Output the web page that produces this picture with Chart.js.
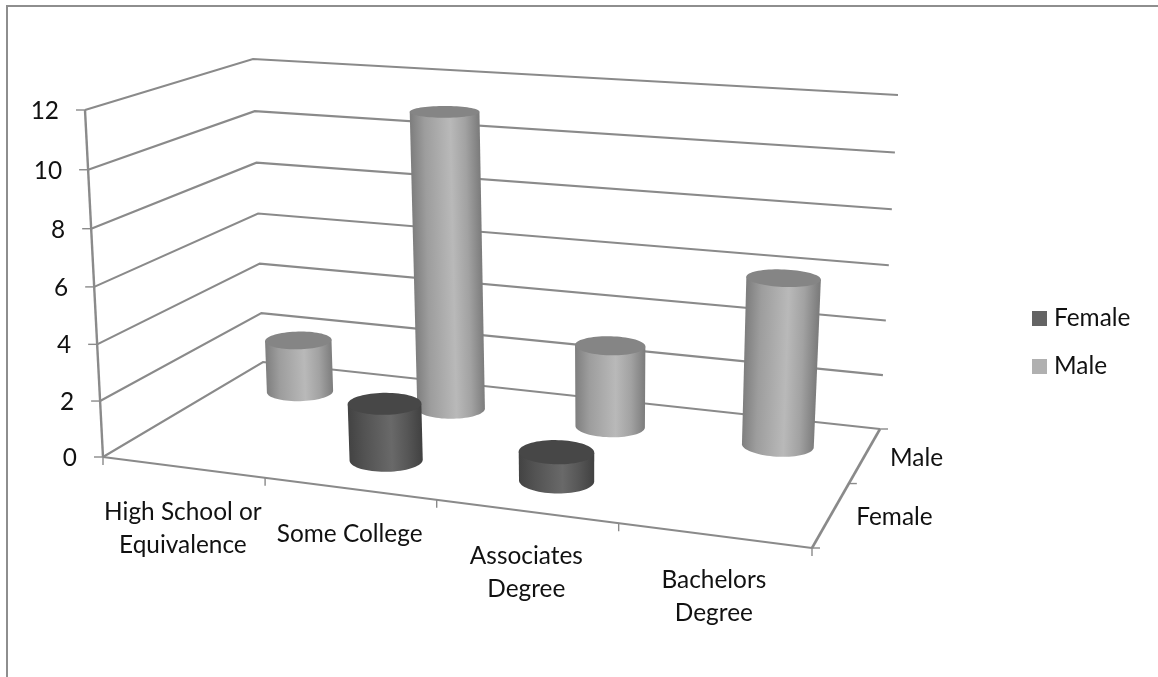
<!DOCTYPE html>
<html>
<head>
<meta charset="utf-8">
<title>Education by gender</title>
<script src="https://cdn.jsdelivr.net/npm/chart.js@4"></script>
<style>
  html, body { margin: 0; padding: 0; background: #fff; }
  canvas { display: block; }
</style>
</head>
<body>
<canvas id="cylinders" width="1158" height="677"></canvas>
<script>
// Chart data
const categories = [['High School or', 'Equivalence'], ['Some College'], ['Associates', 'Degree'], ['Bachelors', 'Degree']];
const seriesNames = ['Female', 'Male'];
const femaleValues = [0, 2, 1, 0];
const maleValues = [2, 11, 3, 6];
const valueTicks = [0, 2, 4, 6, 8, 10, 12];

// Corners of the box in screen units: front-left, front-right, back-right, back-left
const floorCorners = [[103, 457], [812, 548], [880, 429], [263, 362]];
const topCorners = [[85, 110], [835, 163], [898, 95], [253, 59]];
const maxValue = 12;
const heightBend = 0.04;

// Unit square to quad mapping
function quadMap(q) {
  const [[x0, y0], [x1, y1], [x2, y2], [x3, y3]] = q;
  const dx1 = x1 - x2, dx2 = x3 - x2, sx = x0 - x1 + x2 - x3;
  const dy1 = y1 - y2, dy2 = y3 - y2, sy = y0 - y1 + y2 - y3;
  const det = dx1 * dy2 - dx2 * dy1;
  const g = (sx * dy2 - dx2 * sy) / det;
  const h = (dx1 * sy - sx * dy1) / det;
  return (u, v) => {
    const w = g * u + h * v + 1;
    return {
      x: ((x1 - x0 + g * x1) * u + (x3 - x0 + h * x3) * v + x0) / w,
      y: ((y1 - y0 + g * y1) * u + (y3 - y0 + h * y3) * v + y0) / w
    };
  };
}
const floorMap = quadMap(floorCorners);
const topMap = quadMap(topCorners);

// u = position along categories (0-1), v = depth (0-1), val = axis value
function project(u, v, val) {
  const a = floorMap(u, v), b = topMap(u, v);
  const s = val / maxValue, t = s / (1 + heightBend * (1 - s));
  return { x: a.x + (b.x - a.x) * t, y: a.y + (b.y - a.y) * t };
}

const lineStyle = { showLine: true, pointRadius: 0, borderColor: '#8a8a8a', borderWidth: 2.1, tension: 0 };
const wallLines = valueTicks.map(val => ({
  ...lineStyle,
  data: [project(0, 0, val), project(0, 1, val), project(1, 1, val)]
}));
const axisLines = [
  { ...lineStyle, borderWidth: 2.4, data: [project(0, 0, 12), project(0, 0, 0)] },
  { ...lineStyle, data: [project(0, 0, 0), project(1, 0, 0)] },
  { ...lineStyle, borderWidth: 2.6, data: [project(1, 0, 0), project(1, 1, 0)] }
];
// tick marks for the three axes
const tickLines = [
  ...valueTicks.map(val => { const p = project(0, 0, val); return { ...lineStyle, borderWidth: 1.4, data: [{ x: p.x - 9, y: p.y }, p] }; }),
  ...[0, 1, 2, 3, 4].map(i => { const p = project(i / 4, 0, 0); return { ...lineStyle, borderWidth: 1.4, data: [p, { x: p.x, y: p.y + 8 }] }; }),
  ...[0, 1, 2].map(i => { const p = project(1, i / 2, 0); return { ...lineStyle, borderWidth: 1.4, data: [p, { x: p.x + 8, y: p.y }] }; })
];

const shades = {
  Female: { swatch: '#646464', cap: '#474747', stops: ['#434343', '#525252', '#696969', '#565656', '#414141'] },
  Male: { swatch: '#b0b0b0', cap: '#858585', stops: ['#7f7f7f', '#9d9d9d', '#b9b9b9', '#a2a2a2', '#7d7d7d'] }
};
const seriesData = { Female: femaleValues, Male: maleValues };
const depthOf = { Female: 0.25, Male: 0.75 };

function toPixels(chart, p) {
  return { x: chart.scales.x.getPixelForValue(p.x), y: chart.scales.y.getPixelForValue(p.y) };
}

// Outline of a cylinder section at a given value, as screen points
function ring(chart, u, v, val) {
  const pts = [];
  for (let i = 0; i < 72; i++) {
    const a = i / 72 * Math.PI * 2;
    pts.push(toPixels(chart, project(u + 0.051 * Math.cos(a), v + 0.1 * Math.sin(a), val)));
  }
  return pts;
}

function drawCylinder(chart, ctx, catIndex, name, val) {
  const u = (catIndex + 0.5) / 4, v = depthOf[name], shade = shades[name];
  const top = ring(chart, u, v, val), base = ring(chart, u, v, 0);
  const extreme = (pts, sign) => pts.reduce((best, p, i) => (p.x * sign > pts[best].x * sign ? i : best), 0);
  const bl = extreme(base, -1), br = extreme(base, 1), tl = extreme(top, -1), tr = extreme(top, 1);

  ctx.beginPath();
  ctx.moveTo(top[tl].x, top[tl].y);
  ctx.lineTo(base[bl].x, base[bl].y);
  // front half of the base: walk from left extreme to right extreme through the low side
  const n = base.length;
  const forward = [];
  for (let i = bl; i !== br; i = (i + 1) % n) forward.push(base[i]);
  const backward = [];
  for (let i = bl; i !== br; i = (i - 1 + n) % n) backward.push(base[i]);
  const lower = (arr) => arr.reduce((s, p) => s + p.y, 0) / arr.length;
  (lower(forward) > lower(backward) ? forward : backward).forEach(p => ctx.lineTo(p.x, p.y));
  ctx.lineTo(base[br].x, base[br].y);
  ctx.lineTo(top[tr].x, top[tr].y);
  ctx.closePath();

  // gradient runs across the cylinder, square to its lean
  const cb = toPixels(chart, project(u, v, 0)), ct = toPixels(chart, project(u, v, val));
  const ax = ct.x - cb.x, ay = ct.y - cb.y, len = Math.hypot(ax, ay);
  const nx = -ay / len, ny = ax / len;
  const r = (base[br].x - base[bl].x) / 2;
  const sign = nx > 0 ? 1 : -1;
  const grad = ctx.createLinearGradient(cb.x - sign * nx * r, cb.y - sign * ny * r, cb.x + sign * nx * r, cb.y + sign * ny * r);
  [0, 0.2, 0.58, 0.8, 1].forEach((s, i) => grad.addColorStop(s, shade.stops[i]));
  ctx.fillStyle = grad;
  ctx.fill();

  ctx.beginPath();
  top.forEach((p, i) => (i ? ctx.lineTo(p.x, p.y) : ctx.moveTo(p.x, p.y)));
  ctx.closePath();
  ctx.fillStyle = shade.cap;
  ctx.fill();
}

const FONT = '24.4px Lato, Carlito, sans-serif';

const cylinderPlugin = {
  id: 'cylinders',
  afterDatasetsDraw(chart) {
    const ctx = chart.ctx;
    ctx.save();

    // frame along the top and left
    ctx.strokeStyle = '#8e8e8e';
    ctx.lineWidth = 2;
    ctx.beginPath();
    ctx.moveTo(7, 677);
    ctx.lineTo(7, 6);
    ctx.lineTo(1158, 6);
    ctx.stroke();

    // back row first so the front row overlaps it
    ['Male', 'Female'].forEach(name => {
      seriesData[name].forEach((val, i) => {
        if (val > 0) drawCylinder(chart, ctx, i, name, val);
      });
    });

    ctx.font = FONT;
    ctx.fillStyle = '#111';
    ctx.textBaseline = 'middle';

    ctx.textAlign = 'right';
    valueTicks.forEach(val => {
      const p = toPixels(chart, project(0, 0, val));
      ctx.fillText(String(val), p.x - 26, p.y + 1);
    });

    ctx.textAlign = 'center';
    categories.forEach((lines, i) => {
      const p = toPixels(chart, project((i + 0.5) / 4, 0, 0));
      lines.forEach((line, k) => ctx.fillText(line, p.x, p.y + 45 + k * 33));
    });

    ctx.textAlign = 'left';
    seriesNames.forEach((name, i) => {
      const p = toPixels(chart, project(1, (i + 0.5) / 2, 0));
      ctx.fillText(name, p.x + 25, p.y + 3);
    });

    // legend
    seriesNames.forEach((name, i) => {
      const y = 318.5 + i * 48;
      ctx.fillStyle = shades[name].swatch;
      ctx.fillRect(1032, y - 7.5, 15, 15);
      ctx.fillStyle = '#111';
      ctx.fillText(name, 1054, y);
    });
    ctx.restore();
  }
};

new Chart(document.getElementById('cylinders'), {
  type: 'scatter',
  data: { datasets: [...wallLines, ...axisLines, ...tickLines] },
  options: {
    responsive: false,
    animation: false,
    layout: { padding: 0 },
    plugins: { legend: { display: false }, tooltip: { enabled: false } },
    scales: {
      x: { type: 'linear', display: false, min: 0, max: 1158 },
      y: { type: 'linear', display: false, min: 0, max: 677, reverse: true }
    }
  },
  plugins: [cylinderPlugin]
});
</script>
</body>
</html>
